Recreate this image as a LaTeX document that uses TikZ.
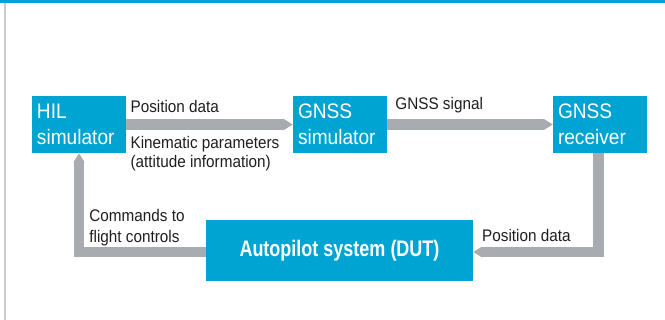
\documentclass[tikz,border=0pt]{standalone}
\usepackage{fontspec}
\setmainfont{Liberation Sans}[FakeStretch=0.91]
\newfontfamily\dutfont{Liberation Sans}[FakeStretch=0.8]
\usetikzlibrary{arrows.meta}
\definecolor{boxblue}{HTML}{00A4D3}
\definecolor{bandgrey}{HTML}{A8ACB1}
\definecolor{framegrey}{HTML}{C9CBCD}
\definecolor{txt}{HTML}{1E1E1E}
\tikzset{
  blk/.style={fill=boxblue, text=white, inner xsep=5pt, inner ysep=0pt,
    text width=84pt, minimum height=57pt, align=left,
    font=\fontsize{21}{26}\selectfont},
  dutbox/.style={fill=boxblue, text=white, minimum width=267pt, minimum height=61pt,
    inner sep=0pt, font=\dutfont\bfseries\fontsize{22.5}{27}\selectfont},
  band/.style={draw=bandgrey, line width=10.5pt, line join=miter,
    -{Triangle[length=9pt,width=10.5pt]}},
  lbl/.style={anchor=base west, inner sep=0pt, align=left,
    font=\fontsize{16.8}{20}\selectfont, text=txt}
}
\begin{document}
\begin{tikzpicture}[x=1pt,y=-1pt]
\useasboundingbox (0,0) rectangle (665,320);
\fill[boxblue] (0,0) rectangle (665,3);
\fill[framegrey] (4,3) rectangle (6,320);

\node[blk] (hil) at (79,124.5) {HIL\\simulator};
\node[blk] (gsim) at (340,124.5) {GNSS\\simulator};
\node[blk] (rcv) at (600,124.5) {GNSS\\receiver};
\node[dutbox] (dut) at (339.5,250.5) {Autopilot system (DUT)};

\draw[band] (hil.east) -- (gsim.west);
\draw[band] (gsim.east) -- (rcv.west);
\draw[band] ([xshift=-1.5pt]rcv.south) |- ([yshift=-1.5pt]dut.east);
\draw[band] ([yshift=-1.5pt]dut.west) -| (hil.south);

\node[lbl] (l1) at (130.4,112.7) {Position data};
\node[lbl] (l2) at (130.4,148.3) {Kinematic parameters};
\node[lbl] (l3) at (130.4,168) {(attitude information)};
\node[lbl] (l4) at (395.2,110) {GNSS signal};
\node[lbl] (l5) at (89.2,221.7) {Commands to};
\node[lbl] (l6) at (89.2,242.7) {flight controls};
\node[lbl] (l7) at (482,241.7) {Position data};
\end{tikzpicture}
\end{document}
